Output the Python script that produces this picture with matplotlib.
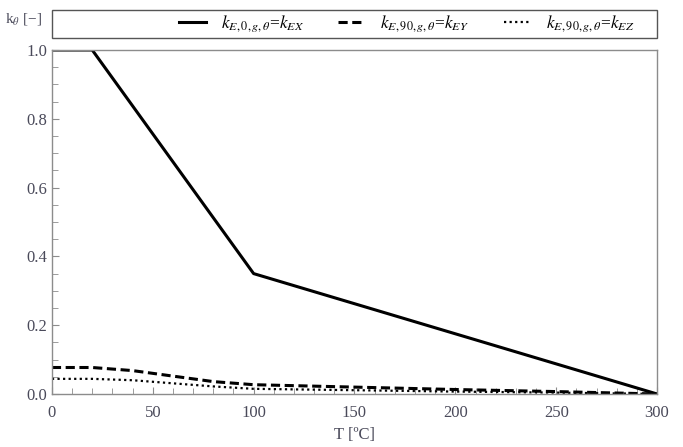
import matplotlib
matplotlib.use("Agg")
from matplotlib import pyplot as plt
from matplotlib.patches import Rectangle

# temperatures [C] and reduction factors
T_ex = [0, 20, 100, 300]
k_ex = [1.0, 1.0, 0.35, 0.0]

T_ey = [0, 20, 40, 60, 80, 100, 150, 200, 250, 300]
k_ey = [0.077, 0.077, 0.068, 0.052, 0.036, 0.027, 0.020, 0.013, 0.007, 0.0]

T_ez = [0, 20, 40, 60, 80, 100, 150, 200, 250, 300]
k_ez = [0.044, 0.044, 0.040, 0.031, 0.022, 0.015, 0.011, 0.007, 0.004, 0.0]

labels = [r"$k_{E,0,g,\theta}$=$k_{EX}$",
          r"$k_{E,90,g,\theta}$=$k_{EY}$",
          r"$k_{E,90,g,\theta}$=$k_{EZ}$"]

plt.rcParams['font.family'] = ['Liberation Serif', 'DejaVu Serif']
plt.rcParams['mathtext.fontset'] = 'stix'
tick_col = '#4a4a5a'
spine_col = '#8c8c8c'

fig = plt.figure(figsize=(6.83, 4.47), dpi=100)
ax = fig.add_axes([0.076, 0.1186, 0.886, 0.7695])

l1, = ax.plot(T_ex, k_ex, color='black', lw=2.2, linestyle='-')
l2, = ax.plot(T_ey, k_ey, color='black', lw=2.2, linestyle=(0, (3, 1.5)))
l3, = ax.plot(T_ez, k_ez, color='black', lw=1.6, linestyle=(0, (1, 1.5)))

ax.set_xlim(0, 300)
ax.set_ylim(0, 1.0)
ax.set_xticks(range(0, 301, 50))
ax.set_xticks(range(0, 301, 10), minor=True)
ax.set_yticks([0.0, 0.2, 0.4, 0.6, 0.8, 1.0])
ax.set_yticks([i * 0.05 for i in range(21)], minor=True)
ax.set_yticklabels(['0.0', '0.2', '0.4', '0.6', '0.8', '1.0'])
ax.tick_params(which='both', direction='in', colors=spine_col, labelcolor=tick_col, labelsize=12)
ax.tick_params(which='major', length=5)
ax.tick_params(which='minor', length=4)
ax.tick_params(axis='x', pad=8)
for s in ax.spines.values():
    s.set_color(spine_col)
    s.set_linewidth(1.0)

ax.set_xlabel("T [ºC]", fontsize=12, color=tick_col, labelpad=4)
fig.text(0.008, 0.958, "k$_\\theta$ [−]", fontsize=11, color=tick_col, va='center')

# legend box above the plot
fig.patches.append(Rectangle((0.076, 0.915), 0.886, 0.063, transform=fig.transFigure,
                             fill=False, edgecolor='#555555', lw=1.0))
fig.legend([l1, l2, l3], labels, loc='center right', bbox_to_anchor=(0.952, 0.946),
           ncol=3, frameon=False, fontsize=12.5, handlelength=1.55, columnspacing=2.0,
           handletextpad=0.86)

fig.savefig("out.png", dpi=100)
